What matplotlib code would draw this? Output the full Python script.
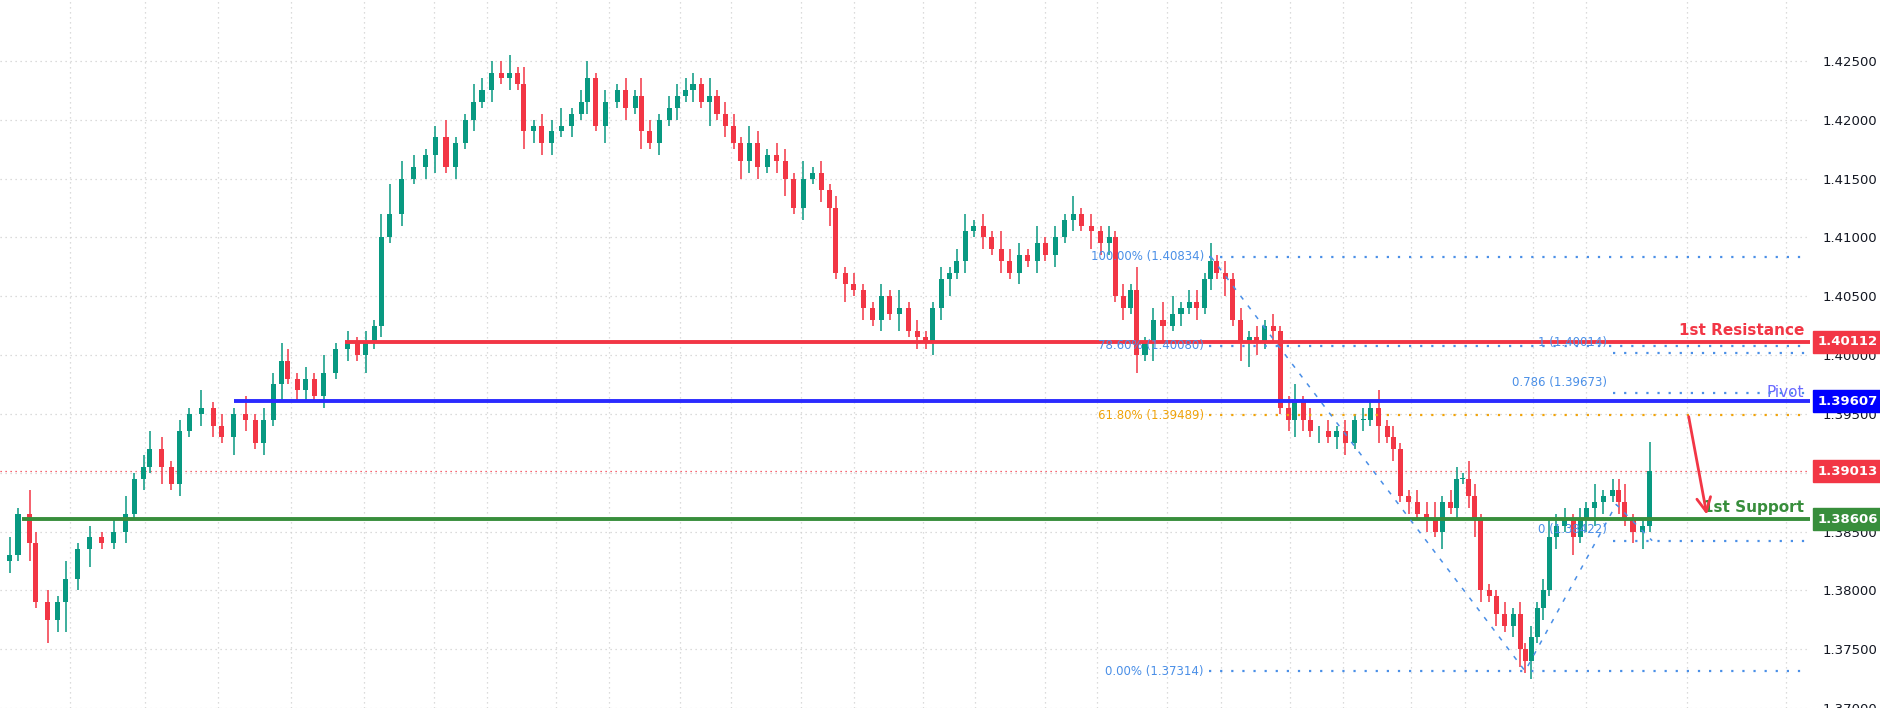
import matplotlib
matplotlib.use("Agg")
import matplotlib.pyplot as plt
import numpy as np

# bar time positions (chart time units)
bar_t = [
8,15,25,30,40,48,55,65,75,85,
95,105,112,120,125,135,143,150,158,168,
178,185,195,205,213,220,228,235,240,248,
255,262,270,280,290,298,305,312,318,325,
335,345,355,363,372,380,388,395,402,410,
418,425,432,437,445,452,460,468,477,485,
490,497,505,515,522,530,535,542,550,558,
565,572,578,585,592,598,605,612,618,625,
632,640,648,655,662,670,678,685,692,697,
705,712,720,728,735,742,750,758,765,772,
778,785,792,798,805,812,820,827,835,842,
850,857,865,872,880,888,895,902,910,918,
925,930,937,943,948,955,962,970,978,985,
992,998,1005,1010,1015,1022,1028,1035,1042,1048,
1055,1062,1068,1075,1080,1087,1093,1100,1108,1115,
1122,1130,1137,1143,1150,1157,1162,1168,1175,1182,
1190,1197,1203,1210,1215,1220,1225,1230,1235,1242,
1248,1255,1262,1268,1272,1277,1282,1287,1292,1298,
1305,1312,1318,1323,1330,1337,1345,1350,1355,1362,
1370,1376]
closes = [
1.3830,1.3865,1.3840,1.3790,1.3775,1.3790,1.3810,1.3835,1.3845,1.3840,
1.3850,1.3865,1.3895,1.3905,1.3920,1.3905,1.3890,1.3935,1.3950,1.3955,
1.3940,1.3930,1.3950,1.3945,1.3925,1.3945,1.3975,1.3995,1.3980,1.3970,
1.3980,1.3965,1.3985,1.4005,1.4010,1.4000,1.4010,1.4025,1.4100,1.4120,
1.4150,1.4160,1.4170,1.4185,1.4160,1.4180,1.4200,1.4215,1.4225,1.4240,
1.4235,1.4240,1.4230,1.4190,1.4195,1.4180,1.4190,1.4195,1.4205,1.4215,
1.4235,1.4195,1.4215,1.4225,1.4210,1.4220,1.4190,1.4180,1.4200,1.4210,
1.4220,1.4225,1.4230,1.4215,1.4220,1.4205,1.4195,1.4180,1.4165,1.4180,
1.4160,1.4170,1.4165,1.4150,1.4125,1.4150,1.4155,1.4140,1.4125,1.4070,
1.4060,1.4055,1.4040,1.4030,1.4050,1.4035,1.4040,1.4020,1.4015,1.4010,
1.4040,1.4065,1.4070,1.4080,1.4105,1.4110,1.4100,1.4090,1.4080,1.4070,
1.4085,1.4080,1.4095,1.4085,1.4100,1.4115,1.4120,1.4110,1.4105,1.4095,
1.4100,1.4050,1.4040,1.4055,1.4000,1.4010,1.4030,1.4025,1.4035,1.4040,
1.4045,1.4040,1.4065,1.4080,1.4070,1.4065,1.4030,1.4010,1.4015,1.4010,
1.4025,1.4020,1.3955,1.3945,1.3960,1.3945,1.3935,1.3935,1.3930,1.3935,
1.3925,1.3945,1.3945,1.3955,1.3940,1.3930,1.3920,1.3880,1.3875,1.3865,
1.3860,1.3850,1.3875,1.3870,1.3895,1.3895,1.3880,1.3860,1.3800,1.3795,
1.3780,1.3770,1.3780,1.3750,1.3740,1.3760,1.3785,1.3800,1.3845,1.3855,
1.3860,1.3845,1.3860,1.3870,1.3875,1.3880,1.3885,1.3875,1.3860,1.3850,
1.3855,1.39013]
first_open = 1.3825
wick_up = ("3142213121" "2312321213" "1213122321" "2131212145" "3212311322"
           "2313122312" "3121213212" "2221312213" "2122131212" "1211213121"
           "1212312132" "2131213121" "2121412331" "2213121212" "1212312121"
           "2121312112" "2312213211" "1212121232" "2121312231" "15")
wick_dn = ("2131425231" "1212131212" "2132121312" "2121213121" "2123121212"
           "1213222121" "2131213121" "2121412132" "2123121231" "3121213121"
           "2231212121" "2121212132" "2121313312" "1212131342" "1212321212"
           "2121312121" "2131212321" "2123231212" "1312321212" "31")
wick_unit = 0.0005

resistance, pivot, support, last_price = 1.40112, 1.39607, 1.38606, 1.39013
fib_levels = [("100.00% (1.40834)", 1.40834, "#4a8fe7"),
              ("78.60% (1.40080)", 1.40080, "#4a8fe7"),
              ("61.80% (1.39489)", 1.39489, "#f0a30a"),
              ("0.00% (1.37314)", 1.37314, "#4a8fe7")]
ext_levels = [("1 (1.40014)", 1.40014), ("0.786 (1.39673)", 1.39673), ("0 (1.38422)", 1.38422)]
zigzag_t = [1010, 1272, 1348, 1378]
zigzag_y = [1.40834, 1.37314, 1.3873, 1.38422]
vgrid = [58,121,182,243,304,362,406,464,508,567,610,668,712,770,813,872,915,
         973,1018,1076,1120,1177,1222,1279,1323,1407,1490]
yticks = [1.370,1.375,1.380,1.385,1.390,1.395,1.400,1.405,1.410,1.415,1.420,1.425]

GREEN, RED = "#089981", "#f23645"
fig = plt.figure(figsize=(18.8, 7.08), dpi=100)
ax = fig.add_axes([0.0, 0.0, 0.963, 1.0])
XMAX = 1510
ax.set_xlim(0, XMAX)
ax.set_ylim(1.37026, 1.43017)

n = len(closes)
opens = [first_open] + closes[:-1]
for i in range(n):
    o, c = opens[i], closes[i]
    col = GREEN if c >= o else RED
    hi = max(o, c) + int(wick_up[i]) * wick_unit
    lo = min(o, c) - int(wick_dn[i]) * wick_unit
    ax.vlines(bar_t[i], lo, hi, color=col, lw=1.1, zorder=3)
    h = max(abs(c - o), 0.00008)
    ax.bar(bar_t[i], h, bottom=min(o, c), width=4.2, color=col, zorder=4, linewidth=0)

for v in vgrid:
    ax.axvline(v, color="#d0d0d0", lw=0.9, ls=(0, (1, 3)), zorder=0)
for t in yticks:
    ax.axhline(t, color="#d0d0d0", lw=0.9, ls=(0, (1, 3)), zorder=0)

ax.axhline(last_price, color=RED, lw=0.9, ls=(0, (1, 3)), zorder=2)
ax.hlines(resistance, 288, XMAX, color=RED, lw=2.8, zorder=5)
ax.hlines(pivot, 195, XMAX, color="#2a2aff", lw=2.8, zorder=5)
ax.hlines(support, 18, XMAX, color="#388e3c", lw=2.8, zorder=5)

fx0, fx1 = 1008, 1508
for lab, lv, col in fib_levels:
    ax.hlines(lv, fx0, fx1, color=col, lw=1.6, ls=(0, (1, 4)), zorder=6)
    ax.text(fx0 - 4, lv, lab, color=col, fontsize=8.5, ha="right", va="center", zorder=7)
for lab, lv in ext_levels:
    ax.hlines(lv, 1345, fx1, color="#4a8fe7", lw=1.6, ls=(0, (1, 4)), zorder=6)
    ax.text(1340, lv + 0.0004, lab, color="#4a8fe7", fontsize=8.5, ha="right", va="bottom", zorder=7)
ax.plot(zigzag_t, zigzag_y, color="#4a8fe7", lw=1.1, ls=(0, (3, 5)), zorder=6)

ax.annotate("", xy=(1424, 1.3862), xytext=(1408, 1.3950),
            arrowprops=dict(arrowstyle="->,head_length=1.0,head_width=0.5", color=RED, lw=2), zorder=8)

ax.text(1505, resistance + 0.0003, "1st Resistance", color=RED, fontsize=11, fontweight="bold", ha="right", va="bottom")
ax.text(1505, pivot + 0.0001, "Pivot", color="#6a6aff", fontsize=11, ha="right", va="bottom")
ax.text(1505, support + 0.0003, "1st Support", color="#388e3c", fontsize=11, fontweight="bold", ha="right", va="bottom")

for s in ax.spines.values():
    s.set_visible(False)
ax.set_xticks([])
ax.yaxis.tick_right()
ax.set_yticks(yticks)
ax.set_yticklabels([f"{t:.5f}" for t in yticks])
ax.tick_params(axis="y", length=0, pad=9, labelsize=9.5, labelcolor="#131722")

for val, col in [(resistance, RED), (pivot, "#0000ff"), (last_price, RED), (support, "#388e3c")]:
    ax.text(1.004, val, f"{val:.5f}", transform=ax.get_yaxis_transform(), color="white",
            fontsize=9.5, fontweight="bold", ha="left", va="center", zorder=10,
            bbox=dict(boxstyle="square,pad=0.35", fc=col, ec=col))

fig.savefig("out.png", dpi=100, facecolor="white")
